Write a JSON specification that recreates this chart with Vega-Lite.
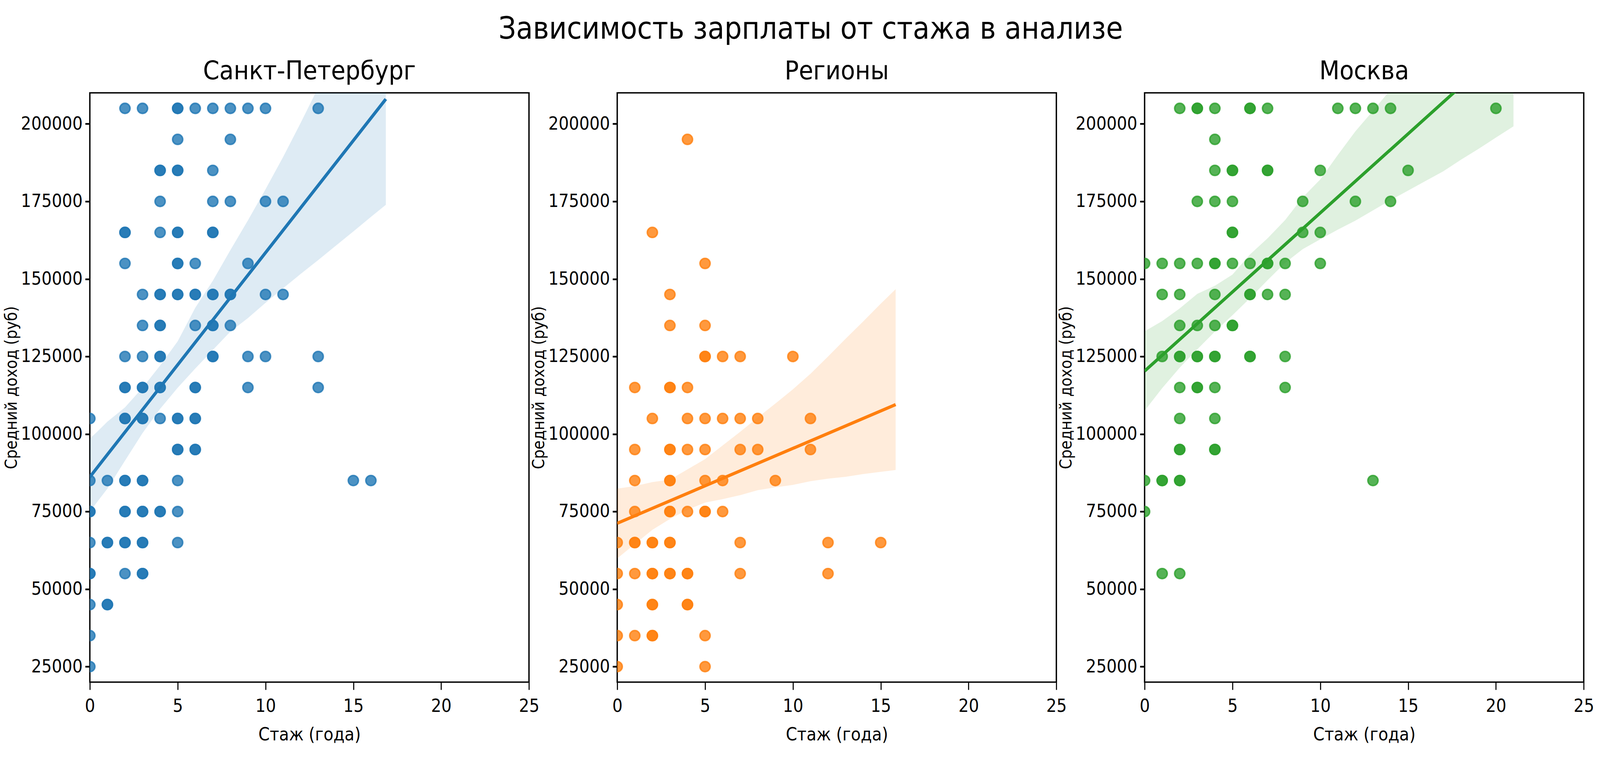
{
"$schema":"https://vega.github.io/schema/vega-lite/v6.json",
"background":"white",
"padding":{"left":6,"top":36.8,"right":0,"bottom":0},
"bounds":"flush",
"spacing":225.1,
"title":{"text":"Зависимость зарплаты от стажа в анализе","fontSize":78,"fontWeight":"normal","anchor":"middle","dx":31,"offset":-28.6,"baseline":"alphabetic","color":"black","font":"'DejaVu Sans Condensed', 'DejaVu Sans'"},
"config":{
 "font":"'DejaVu Sans Condensed', 'DejaVu Sans'",
 "view":{"stroke":"black","strokeWidth":3.5},
 "axis":{"grid":false,"domain":false,"tickColor":"black","labelFontSize":46,"labelColor":"black","labelLimit":1000,"titleFontSize":46,"titleFontWeight":"normal","titleColor":"black","labelFlush":false,"labelOverlap":false,"labelFont":"'DejaVu Sans Condensed', 'DejaVu Sans'","titleFont":"'DejaVu Sans Condensed', 'DejaVu Sans'"},
 "axisX":{"tickSize":19.4,"tickWidth":2.7,"labelPadding":20,"titlePadding":28},
 "axisY":{"tickSize":12,"tickWidth":4.4,"labelPadding":7,"titlePadding":2,"titleFontSize":42},
 "title":{"fontSize":66.7,"fontWeight":"normal","color":"black","offset":21,"baseline":"alphabetic","font":"'DejaVu Sans Condensed', 'DejaVu Sans'"}
},
"datasets":{
"pts":[
{"c":"spb","x":0,"y":105000},{"c":"spb","x":0,"y":85000},{"c":"spb","x":0,"y":75000},{"c":"spb","x":0,"y":75000},{"c":"spb","x":0,"y":65000},{"c":"spb","x":0,"y":55000},{"c":"spb","x":0,"y":55000},{"c":"spb","x":0,"y":45000},{"c":"spb","x":0,"y":35000},{"c":"spb","x":0,"y":25000},
{"c":"spb","x":1,"y":85000},{"c":"spb","x":1,"y":65000},{"c":"spb","x":1,"y":65000},{"c":"spb","x":1,"y":45000},{"c":"spb","x":1,"y":45000},
{"c":"spb","x":2,"y":205000},{"c":"spb","x":2,"y":165000},{"c":"spb","x":2,"y":165000},{"c":"spb","x":2,"y":155000},{"c":"spb","x":2,"y":125000},{"c":"spb","x":2,"y":115000},{"c":"spb","x":2,"y":115000},{"c":"spb","x":2,"y":105000},{"c":"spb","x":2,"y":105000},{"c":"spb","x":2,"y":85000},{"c":"spb","x":2,"y":85000},{"c":"spb","x":2,"y":75000},{"c":"spb","x":2,"y":75000},{"c":"spb","x":2,"y":65000},{"c":"spb","x":2,"y":65000},{"c":"spb","x":2,"y":55000},
{"c":"spb","x":3,"y":205000},{"c":"spb","x":3,"y":145000},{"c":"spb","x":3,"y":135000},{"c":"spb","x":3,"y":125000},{"c":"spb","x":3,"y":115000},{"c":"spb","x":3,"y":115000},{"c":"spb","x":3,"y":105000},{"c":"spb","x":3,"y":105000},{"c":"spb","x":3,"y":85000},{"c":"spb","x":3,"y":85000},{"c":"spb","x":3,"y":75000},{"c":"spb","x":3,"y":75000},{"c":"spb","x":3,"y":65000},{"c":"spb","x":3,"y":65000},{"c":"spb","x":3,"y":55000},{"c":"spb","x":3,"y":55000},
{"c":"spb","x":4,"y":185000},{"c":"spb","x":4,"y":185000},{"c":"spb","x":4,"y":175000},{"c":"spb","x":4,"y":165000},{"c":"spb","x":4,"y":145000},{"c":"spb","x":4,"y":145000},{"c":"spb","x":4,"y":135000},{"c":"spb","x":4,"y":135000},{"c":"spb","x":4,"y":125000},{"c":"spb","x":4,"y":125000},{"c":"spb","x":4,"y":115000},{"c":"spb","x":4,"y":115000},{"c":"spb","x":4,"y":105000},{"c":"spb","x":4,"y":75000},{"c":"spb","x":4,"y":75000},
{"c":"spb","x":5,"y":205000},{"c":"spb","x":5,"y":205000},{"c":"spb","x":5,"y":195000},{"c":"spb","x":5,"y":185000},{"c":"spb","x":5,"y":185000},{"c":"spb","x":5,"y":165000},{"c":"spb","x":5,"y":165000},{"c":"spb","x":5,"y":155000},{"c":"spb","x":5,"y":155000},{"c":"spb","x":5,"y":145000},{"c":"spb","x":5,"y":145000},{"c":"spb","x":5,"y":105000},{"c":"spb","x":5,"y":105000},{"c":"spb","x":5,"y":95000},{"c":"spb","x":5,"y":95000},{"c":"spb","x":5,"y":85000},{"c":"spb","x":5,"y":75000},{"c":"spb","x":5,"y":65000},
{"c":"spb","x":6,"y":205000},{"c":"spb","x":6,"y":155000},{"c":"spb","x":6,"y":145000},{"c":"spb","x":6,"y":145000},{"c":"spb","x":6,"y":135000},{"c":"spb","x":6,"y":115000},{"c":"spb","x":6,"y":115000},{"c":"spb","x":6,"y":105000},{"c":"spb","x":6,"y":105000},{"c":"spb","x":6,"y":95000},{"c":"spb","x":6,"y":95000},
{"c":"spb","x":7,"y":205000},{"c":"spb","x":7,"y":185000},{"c":"spb","x":7,"y":175000},{"c":"spb","x":7,"y":165000},{"c":"spb","x":7,"y":165000},{"c":"spb","x":7,"y":145000},{"c":"spb","x":7,"y":145000},{"c":"spb","x":7,"y":135000},{"c":"spb","x":7,"y":135000},{"c":"spb","x":7,"y":125000},{"c":"spb","x":7,"y":125000},
{"c":"spb","x":8,"y":205000},{"c":"spb","x":8,"y":195000},{"c":"spb","x":8,"y":175000},{"c":"spb","x":8,"y":145000},{"c":"spb","x":8,"y":145000},{"c":"spb","x":8,"y":135000},
{"c":"spb","x":9,"y":205000},{"c":"spb","x":9,"y":155000},{"c":"spb","x":9,"y":125000},{"c":"spb","x":9,"y":115000},
{"c":"spb","x":10,"y":205000},{"c":"spb","x":10,"y":175000},{"c":"spb","x":10,"y":145000},{"c":"spb","x":10,"y":125000},
{"c":"spb","x":11,"y":175000},{"c":"spb","x":11,"y":145000},
{"c":"spb","x":13,"y":205000},{"c":"spb","x":13,"y":125000},{"c":"spb","x":13,"y":115000},
{"c":"spb","x":15,"y":85000},{"c":"spb","x":16,"y":85000},

{"c":"reg","x":0,"y":65000},{"c":"reg","x":0,"y":55000},{"c":"reg","x":0,"y":45000},{"c":"reg","x":0,"y":35000},{"c":"reg","x":0,"y":25000},
{"c":"reg","x":1,"y":115000},{"c":"reg","x":1,"y":95000},{"c":"reg","x":1,"y":85000},{"c":"reg","x":1,"y":75000},{"c":"reg","x":1,"y":65000},{"c":"reg","x":1,"y":65000},{"c":"reg","x":1,"y":55000},{"c":"reg","x":1,"y":35000},
{"c":"reg","x":2,"y":165000},{"c":"reg","x":2,"y":105000},{"c":"reg","x":2,"y":65000},{"c":"reg","x":2,"y":65000},{"c":"reg","x":2,"y":55000},{"c":"reg","x":2,"y":55000},{"c":"reg","x":2,"y":45000},{"c":"reg","x":2,"y":45000},{"c":"reg","x":2,"y":35000},{"c":"reg","x":2,"y":35000},
{"c":"reg","x":3,"y":145000},{"c":"reg","x":3,"y":135000},{"c":"reg","x":3,"y":115000},{"c":"reg","x":3,"y":115000},{"c":"reg","x":3,"y":95000},{"c":"reg","x":3,"y":95000},{"c":"reg","x":3,"y":85000},{"c":"reg","x":3,"y":85000},{"c":"reg","x":3,"y":75000},{"c":"reg","x":3,"y":75000},{"c":"reg","x":3,"y":65000},{"c":"reg","x":3,"y":65000},{"c":"reg","x":3,"y":55000},{"c":"reg","x":3,"y":55000},
{"c":"reg","x":4,"y":195000},{"c":"reg","x":4,"y":115000},{"c":"reg","x":4,"y":105000},{"c":"reg","x":4,"y":95000},{"c":"reg","x":4,"y":75000},{"c":"reg","x":4,"y":55000},{"c":"reg","x":4,"y":55000},{"c":"reg","x":4,"y":45000},{"c":"reg","x":4,"y":45000},
{"c":"reg","x":5,"y":155000},{"c":"reg","x":5,"y":135000},{"c":"reg","x":5,"y":125000},{"c":"reg","x":5,"y":125000},{"c":"reg","x":5,"y":105000},{"c":"reg","x":5,"y":95000},{"c":"reg","x":5,"y":85000},{"c":"reg","x":5,"y":75000},{"c":"reg","x":5,"y":75000},{"c":"reg","x":5,"y":35000},{"c":"reg","x":5,"y":25000},
{"c":"reg","x":6,"y":125000},{"c":"reg","x":6,"y":105000},{"c":"reg","x":6,"y":85000},{"c":"reg","x":6,"y":75000},
{"c":"reg","x":7,"y":125000},{"c":"reg","x":7,"y":105000},{"c":"reg","x":7,"y":95000},{"c":"reg","x":7,"y":65000},{"c":"reg","x":7,"y":55000},
{"c":"reg","x":8,"y":105000},{"c":"reg","x":8,"y":95000},
{"c":"reg","x":9,"y":85000},
{"c":"reg","x":10,"y":125000},
{"c":"reg","x":11,"y":105000},{"c":"reg","x":11,"y":95000},
{"c":"reg","x":12,"y":65000},{"c":"reg","x":12,"y":55000},
{"c":"reg","x":15,"y":65000},

{"c":"msk","x":0,"y":155000},{"c":"msk","x":0,"y":85000},{"c":"msk","x":0,"y":75000},
{"c":"msk","x":1,"y":155000},{"c":"msk","x":1,"y":145000},{"c":"msk","x":1,"y":125000},{"c":"msk","x":1,"y":85000},{"c":"msk","x":1,"y":85000},{"c":"msk","x":1,"y":55000},
{"c":"msk","x":2,"y":205000},{"c":"msk","x":2,"y":155000},{"c":"msk","x":2,"y":145000},{"c":"msk","x":2,"y":135000},{"c":"msk","x":2,"y":125000},{"c":"msk","x":2,"y":125000},{"c":"msk","x":2,"y":115000},{"c":"msk","x":2,"y":105000},{"c":"msk","x":2,"y":95000},{"c":"msk","x":2,"y":95000},{"c":"msk","x":2,"y":85000},{"c":"msk","x":2,"y":85000},{"c":"msk","x":2,"y":55000},
{"c":"msk","x":3,"y":205000},{"c":"msk","x":3,"y":205000},{"c":"msk","x":3,"y":175000},{"c":"msk","x":3,"y":155000},{"c":"msk","x":3,"y":135000},{"c":"msk","x":3,"y":125000},{"c":"msk","x":3,"y":125000},{"c":"msk","x":3,"y":115000},{"c":"msk","x":3,"y":115000},
{"c":"msk","x":4,"y":205000},{"c":"msk","x":4,"y":195000},{"c":"msk","x":4,"y":185000},{"c":"msk","x":4,"y":175000},{"c":"msk","x":4,"y":155000},{"c":"msk","x":4,"y":155000},{"c":"msk","x":4,"y":145000},{"c":"msk","x":4,"y":135000},{"c":"msk","x":4,"y":125000},{"c":"msk","x":4,"y":125000},{"c":"msk","x":4,"y":115000},{"c":"msk","x":4,"y":105000},{"c":"msk","x":4,"y":95000},{"c":"msk","x":4,"y":95000},
{"c":"msk","x":5,"y":185000},{"c":"msk","x":5,"y":185000},{"c":"msk","x":5,"y":175000},{"c":"msk","x":5,"y":165000},{"c":"msk","x":5,"y":165000},{"c":"msk","x":5,"y":155000},{"c":"msk","x":5,"y":135000},{"c":"msk","x":5,"y":135000},
{"c":"msk","x":6,"y":205000},{"c":"msk","x":6,"y":205000},{"c":"msk","x":6,"y":155000},{"c":"msk","x":6,"y":145000},{"c":"msk","x":6,"y":145000},{"c":"msk","x":6,"y":125000},{"c":"msk","x":6,"y":125000},
{"c":"msk","x":7,"y":205000},{"c":"msk","x":7,"y":185000},{"c":"msk","x":7,"y":185000},{"c":"msk","x":7,"y":155000},{"c":"msk","x":7,"y":155000},{"c":"msk","x":7,"y":145000},
{"c":"msk","x":8,"y":155000},{"c":"msk","x":8,"y":145000},{"c":"msk","x":8,"y":125000},{"c":"msk","x":8,"y":115000},
{"c":"msk","x":9,"y":175000},{"c":"msk","x":9,"y":165000},
{"c":"msk","x":10,"y":185000},{"c":"msk","x":10,"y":165000},{"c":"msk","x":10,"y":155000},
{"c":"msk","x":11,"y":205000},
{"c":"msk","x":12,"y":205000},{"c":"msk","x":12,"y":175000},
{"c":"msk","x":13,"y":205000},{"c":"msk","x":13,"y":85000},
{"c":"msk","x":14,"y":205000},{"c":"msk","x":14,"y":175000},
{"c":"msk","x":15,"y":185000},
{"c":"msk","x":20,"y":205000}
],
"fit":[
{"c":"spb","x":0,"y":86150},{"c":"spb","x":16.85,"y":208000},
{"c":"reg","x":0,"y":71200},{"c":"reg","x":15.85,"y":109500},
{"c":"msk","x":0,"y":120300},{"c":"msk","x":21,"y":227400}
],
"band":[
{"c":"spb","x":0,"lo":75000,"hi":98500},{"c":"spb","x":0.5,"lo":78700,"hi":101200},{"c":"spb","x":1,"lo":82400,"hi":104000},{"c":"spb","x":2,"lo":91400,"hi":108600},{"c":"spb","x":3,"lo":100300,"hi":114900},{"c":"spb","x":4,"lo":108100,"hi":122100},{"c":"spb","x":5,"lo":114900,"hi":129900},{"c":"spb","x":6,"lo":121100,"hi":140700},{"c":"spb","x":7,"lo":127100,"hi":149400},{"c":"spb","x":8,"lo":133000,"hi":159300},{"c":"spb","x":9,"lo":137400,"hi":168900},{"c":"spb","x":10,"lo":142300,"hi":178900},{"c":"spb","x":11,"lo":147000,"hi":189300},{"c":"spb","x":12,"lo":151600,"hi":200300},{"c":"spb","x":13,"lo":156100,"hi":211700},{"c":"spb","x":14,"lo":160700,"hi":223000},{"c":"spb","x":15,"lo":165300,"hi":234000},{"c":"spb","x":16,"lo":170000,"hi":245000},{"c":"spb","x":16.85,"lo":173900,"hi":255000},
{"c":"reg","x":0,"lo":59900,"hi":82400},{"c":"reg","x":1,"lo":64500,"hi":83200},{"c":"reg","x":2,"lo":69100,"hi":84500},{"c":"reg","x":3,"lo":72600,"hi":85300},{"c":"reg","x":4,"lo":75600,"hi":88600},{"c":"reg","x":5,"lo":77900,"hi":91900},{"c":"reg","x":6,"lo":79000,"hi":96300},{"c":"reg","x":7,"lo":80300,"hi":100700},{"c":"reg","x":8,"lo":81900,"hi":105300},{"c":"reg","x":9,"lo":82800,"hi":109800},{"c":"reg","x":10,"lo":83600,"hi":114400},{"c":"reg","x":11,"lo":84800,"hi":119400},{"c":"reg","x":12,"lo":85600,"hi":125000},{"c":"reg","x":13,"lo":86200,"hi":130700},{"c":"reg","x":14,"lo":87100,"hi":136300},{"c":"reg","x":15,"lo":87800,"hi":142000},{"c":"reg","x":15.85,"lo":88400,"hi":146700},
{"c":"msk","x":0,"lo":107500,"hi":133100},{"c":"msk","x":1,"lo":114800,"hi":136400},{"c":"msk","x":2,"lo":121400,"hi":140500},{"c":"msk","x":3,"lo":127300,"hi":145200},{"c":"msk","x":4,"lo":133000,"hi":147800},{"c":"msk","x":5,"lo":138300,"hi":151400},{"c":"msk","x":6,"lo":143800,"hi":157900},{"c":"msk","x":7,"lo":149600,"hi":163100},{"c":"msk","x":8,"lo":155200,"hi":169000},{"c":"msk","x":9,"lo":159600,"hi":176300},{"c":"msk","x":10,"lo":162800,"hi":182100},{"c":"msk","x":11,"lo":165900,"hi":190000},{"c":"msk","x":12,"lo":168800,"hi":197600},{"c":"msk","x":13,"lo":172100,"hi":204200},{"c":"msk","x":14,"lo":175400,"hi":211000},{"c":"msk","x":15,"lo":178500,"hi":217500},{"c":"msk","x":16,"lo":181600,"hi":224000},{"c":"msk","x":17,"lo":184700,"hi":230500},{"c":"msk","x":18,"lo":188400,"hi":237000},{"c":"msk","x":19,"lo":191900,"hi":243500},{"c":"msk","x":20,"lo":195600,"hi":250000},{"c":"msk","x":21,"lo":199200,"hi":256500}
]
},
"hconcat":[
{"width":1124.2,"height":1509,"title":{"text":"Санкт-Петербург"},
 "layer":[
  {"data":{"name":"pts"},"transform":[{"filter":"datum.c === 'spb'"}],
   "mark":{"type":"circle","size":676,"opacity":1,"fill":"#1f77b4","fillOpacity":0.8,"stroke":"#1f77b4","strokeOpacity":0.8,"strokeWidth":3.8,"clip":true},
   "encoding":{"x":{"field":"x","type":"quantitative","scale":{"domain":[0,25],"nice":false,"zero":false},"axis":{"values":[0,5,10,15,20,25],"title":"Стаж (года)"}},
               "y":{"field":"y","type":"quantitative","scale":{"domain":[20000,210000],"nice":false,"zero":false},"axis":{"values":[25000,50000,75000,100000,125000,150000,175000,200000],"format":"d","title":"Средний доход (руб)"}}}},
  {"data":{"name":"band"},"transform":[{"filter":"datum.c === 'spb'"}],
   "mark":{"type":"area","color":"#1f77b4","opacity":0.15,"clip":true},
   "encoding":{"x":{"field":"x","type":"quantitative","scale":{"domain":[0,25],"nice":false,"zero":false},"axis":{"values":[0,5,10,15,20,25],"title":"Стаж (года)"}},
               "y":{"field":"lo","type":"quantitative","scale":{"domain":[20000,210000],"nice":false,"zero":false},"axis":{"values":[25000,50000,75000,100000,125000,150000,175000,200000],"format":"d","title":"Средний доход (руб)"}},
               "y2":{"field":"hi"}}},
  {"data":{"name":"fit"},"transform":[{"filter":"datum.c === 'spb'"}],
   "mark":{"type":"line","color":"#1f77b4","strokeWidth":8,"clip":true},
   "encoding":{"x":{"field":"x","type":"quantitative","scale":{"domain":[0,25],"nice":false,"zero":false},"axis":{"values":[0,5,10,15,20,25],"title":"Стаж (года)"}},
               "y":{"field":"y","type":"quantitative","scale":{"domain":[20000,210000],"nice":false,"zero":false},"axis":{"values":[25000,50000,75000,100000,125000,150000,175000,200000],"format":"d","title":"Средний доход (руб)"}}}}
 ]},
{"width":1124.2,"height":1509,"title":{"text":"Регионы"},
 "layer":[
  {"data":{"name":"pts"},"transform":[{"filter":"datum.c === 'reg'"}],
   "mark":{"type":"circle","size":676,"opacity":1,"fill":"#ff7f0e","fillOpacity":0.8,"stroke":"#ff7f0e","strokeOpacity":0.8,"strokeWidth":3.8,"clip":true},
   "encoding":{"x":{"field":"x","type":"quantitative","scale":{"domain":[0,25],"nice":false,"zero":false},"axis":{"values":[0,5,10,15,20,25],"title":"Стаж (года)"}},
               "y":{"field":"y","type":"quantitative","scale":{"domain":[20000,210000],"nice":false,"zero":false},"axis":{"values":[25000,50000,75000,100000,125000,150000,175000,200000],"format":"d","title":"Средний доход (руб)"}}}},
  {"data":{"name":"band"},"transform":[{"filter":"datum.c === 'reg'"}],
   "mark":{"type":"area","color":"#ff7f0e","opacity":0.15,"clip":true},
   "encoding":{"x":{"field":"x","type":"quantitative","scale":{"domain":[0,25],"nice":false,"zero":false},"axis":{"values":[0,5,10,15,20,25],"title":"Стаж (года)"}},
               "y":{"field":"lo","type":"quantitative","scale":{"domain":[20000,210000],"nice":false,"zero":false},"axis":{"values":[25000,50000,75000,100000,125000,150000,175000,200000],"format":"d","title":"Средний доход (руб)"}},
               "y2":{"field":"hi"}}},
  {"data":{"name":"fit"},"transform":[{"filter":"datum.c === 'reg'"}],
   "mark":{"type":"line","color":"#ff7f0e","strokeWidth":8,"clip":true},
   "encoding":{"x":{"field":"x","type":"quantitative","scale":{"domain":[0,25],"nice":false,"zero":false},"axis":{"values":[0,5,10,15,20,25],"title":"Стаж (года)"}},
               "y":{"field":"y","type":"quantitative","scale":{"domain":[20000,210000],"nice":false,"zero":false},"axis":{"values":[25000,50000,75000,100000,125000,150000,175000,200000],"format":"d","title":"Средний доход (руб)"}}}}
 ]},
{"width":1124.2,"height":1509,"title":{"text":"Москва"},
 "layer":[
  {"data":{"name":"pts"},"transform":[{"filter":"datum.c === 'msk'"}],
   "mark":{"type":"circle","size":676,"opacity":1,"fill":"#2ca02c","fillOpacity":0.8,"stroke":"#2ca02c","strokeOpacity":0.8,"strokeWidth":3.8,"clip":true},
   "encoding":{"x":{"field":"x","type":"quantitative","scale":{"domain":[0,25],"nice":false,"zero":false},"axis":{"values":[0,5,10,15,20,25],"title":"Стаж (года)"}},
               "y":{"field":"y","type":"quantitative","scale":{"domain":[20000,210000],"nice":false,"zero":false},"axis":{"values":[25000,50000,75000,100000,125000,150000,175000,200000],"format":"d","title":"Средний доход (руб)"}}}},
  {"data":{"name":"band"},"transform":[{"filter":"datum.c === 'msk'"}],
   "mark":{"type":"area","color":"#2ca02c","opacity":0.15,"clip":true},
   "encoding":{"x":{"field":"x","type":"quantitative","scale":{"domain":[0,25],"nice":false,"zero":false},"axis":{"values":[0,5,10,15,20,25],"title":"Стаж (года)"}},
               "y":{"field":"lo","type":"quantitative","scale":{"domain":[20000,210000],"nice":false,"zero":false},"axis":{"values":[25000,50000,75000,100000,125000,150000,175000,200000],"format":"d","title":"Средний доход (руб)"}},
               "y2":{"field":"hi"}}},
  {"data":{"name":"fit"},"transform":[{"filter":"datum.c === 'msk'"}],
   "mark":{"type":"line","color":"#2ca02c","strokeWidth":8,"clip":true},
   "encoding":{"x":{"field":"x","type":"quantitative","scale":{"domain":[0,25],"nice":false,"zero":false},"axis":{"values":[0,5,10,15,20,25],"title":"Стаж (года)"}},
               "y":{"field":"y","type":"quantitative","scale":{"domain":[20000,210000],"nice":false,"zero":false},"axis":{"values":[25000,50000,75000,100000,125000,150000,175000,200000],"format":"d","title":"Средний доход (руб)"}}}}
 ]}
]
}
